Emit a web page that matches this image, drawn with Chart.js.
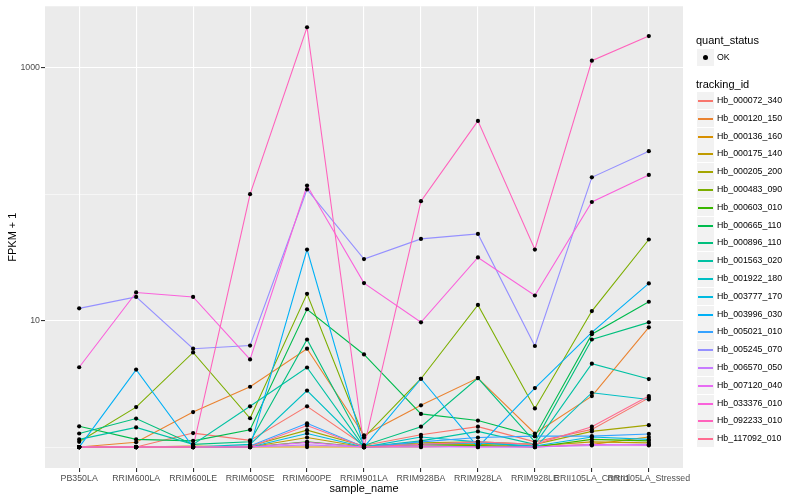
<!DOCTYPE html>
<html>
<head>
<meta charset="utf-8">
<script src="https://cdn.jsdelivr.net/npm/chart.js@4/dist/chart.umd.min.js"></script>
<style>
  body { margin: 0; background: #fff; font-family: "Liberation Sans", Arial, sans-serif; }
  #wrap { position: relative; width: 800px; height: 500px; }
  #legend { position: absolute; left: 0; top: 0; width: 800px; height: 500px; pointer-events: none; }
  .lg-title { position: absolute; left: 696px; font-size: 11px; color: #000; line-height: 13px; }
  .lg-key { position: absolute; left: 697px; width: 17px; height: 17px; background: #f2f2f2; }
  .lg-line { position: absolute; left: 1px; width: 15px; top: 8px; height: 2px; }
  .lg-dot { position: absolute; left: 6px; top: 6px; width: 5px; height: 5px; border-radius: 50%; background: #000; }
  .lg-label { position: absolute; left: 717px; font-size: 8.8px; color: #000; line-height: 11px; }
</style>
</head>
<body>
<div id="wrap">
  <canvas id="chart" width="800" height="500"></canvas>
  <div id="legend"></div>
</div>
<script>
// x categories
const sampleNames = ['PB350LA', 'RRIM600LA', 'RRIM600LE', 'RRIM600SE', 'RRIM600PE', 'RRIM901LA',
  'RRIM928BA', 'RRIM928LA', 'RRIM928LE', 'RRII105LA_Control', 'RRII105LA_Stressed'];

const trackingIds = ['Hb_000072_340', 'Hb_000120_150', 'Hb_000136_160', 'Hb_000175_140', 'Hb_000205_200',
  'Hb_000483_090', 'Hb_000603_010', 'Hb_000665_110', 'Hb_000896_110', 'Hb_001563_020', 'Hb_001922_180',
  'Hb_003777_170', 'Hb_003996_030', 'Hb_005021_010', 'Hb_005245_070', 'Hb_006570_050', 'Hb_007120_040',
  'Hb_033376_010', 'Hb_092233_010', 'Hb_117092_010'];

// ggplot default hue palette, 20 levels
const seriesColors = ['#F8766D', '#EA8331', '#D89000', '#C09B00', '#A3A500', '#7CAE00', '#39B600', '#00BB4E',
  '#00BF7D', '#00C1A3', '#00BFC4', '#00BAE0', '#00B0F6', '#35A2FF', '#9590FF', '#C77CFF', '#E76BF3',
  '#FA62DB', '#FF62BC', '#FF6C91'];

// FPKM + 1, one array per tracking_id
const hb000072_340 = [1.0, 1.0, 1.29, 1.13, 2.1, 1.03, 1.25, 1.45, 1.1, 1.38, 2.45];
const hb000120_150 = [1.0, 1.09, 1.89, 3.0, 6.0, 1.24, 2.14, 3.51, 1.28, 2.53, 8.85];
const hb000136_160 = [1.0, 1.0, 1.0, 1.0, 1.0, 1.0, 1.0, 1.02, 1.0, 1.05, 1.2];
const hb000175_140 = [1.0, 1.0, 1.02, 1.0, 1.19, 1.0, 1.05, 1.05, 1.02, 1.1, 1.08];
const hb000205_200 = [1.0, 1.0, 1.0, 1.02, 1.36, 1.02, 1.08, 1.1, 1.05, 1.33, 1.49];
const hb000483_090 = [1.1, 2.07, 5.6, 1.69, 16.3, 1.19, 3.47, 13.3, 2.02, 11.9, 43.8];
const hb000603_010 = [1.0, 1.0, 1.0, 1.0, 1.1, 1.0, 1.02, 1.03, 1.0, 1.15, 1.12];
const hb000665_110 = [1.46, 1.15, 1.12, 1.37, 12.3, 5.4, 1.83, 1.62, 1.22, 7.8, 14.1];
const hb000896_110 = [1.28, 1.68, 1.05, 1.1, 7.09, 1.03, 1.45, 3.51, 1.1, 7.09, 9.69];
const hb001563_020 = [1.15, 1.43, 1.05, 2.1, 4.26, 1.0, 1.12, 1.33, 1.05, 4.57, 3.45];
const hb001922_180 = [1.0, 1.0, 1.0, 1.05, 2.8, 1.0, 1.2, 1.1, 1.0, 2.69, 2.38];
const hb003777_170 = [1.0, 1.0, 1.0, 1.0, 1.28, 1.0, 1.05, 1.08, 1.02, 1.2, 1.15];
const hb003996_030 = [1.0, 4.1, 1.0, 1.0, 36.5, 1.0, 3.47, 1.0, 2.93, 8.08, 19.7];
const hb005021_010 = [1.0, 1.0, 1.0, 1.02, 1.54, 1.0, 1.1, 1.19, 1.22, 1.22, 1.27];
const hb005245_070 = [12.5, 15.4, 6.0, 6.35, 109, 30.7, 44.3, 48.5, 6.3, 136, 219];
const hb006570_050 = [1.0, 1.0, 1.0, 1.0, 1.04, 1.0, 1.0, 1.0, 1.0, 1.03, 1.05];
const hb007120_040 = [1.0, 1.0, 1.0, 1.0, 1.09, 1.0, 1.02, 1.0, 1.0, 1.05, 1.03];
const hb033376_010 = [4.28, 16.7, 15.4, 4.93, 117, 19.8, 9.7, 31.6, 15.8, 86.7, 142];
const hb092233_010 = [1.0, 1.0, 1.0, 100, 2090, 1.0, 88, 380, 36.5, 1137, 1780];
const hb117092_010 = [1.0, 1.0, 1.0, 1.0, 1.48, 1.0, 1.05, 1.1, 1.05, 1.45, 2.53];

const seriesValues = [hb000072_340, hb000120_150, hb000136_160, hb000175_140, hb000205_200, hb000483_090,
  hb000603_010, hb000665_110, hb000896_110, hb001563_020, hb001922_180, hb003777_170, hb003996_030,
  hb005021_010, hb005245_070, hb006570_050, hb007120_040, hb033376_010, hb092233_010, hb117092_010];

// y axis: grid at every decade, labels only on 10 and 1000
const yGridValues = [1, 10, 100, 1000];
const yLabelValues = [10, 1000];

const FONT = '"Liberation Sans", Arial, sans-serif';

// grey panel behind the plot
const panelBg = {
  id: 'panelBg',
  beforeDraw(chart) {
    const { ctx, chartArea: a } = chart;
    ctx.save();
    ctx.fillStyle = '#ebebeb';
    ctx.fillRect(a.left, a.top, a.right - a.left, a.bottom - a.top);
    ctx.restore();
  }
};

const datasets = seriesValues.map((vals, i) => ({
  label: trackingIds[i],
  data: vals.map((v, j) => ({ x: j, y: v })),
  borderColor: seriesColors[i],
  borderWidth: 1.1,
  pointRadius: 0,
  tension: 0,
  fill: false,
  order: 100 - i   // later groups on top, like ggplot
}));

// all points in one black layer above the lines
const allPoints = [];
seriesValues.forEach(vals => vals.forEach((v, j) => allPoints.push({ x: j, y: v })));
datasets.push({
  label: 'OK',
  data: allPoints,
  showLine: false,
  pointRadius: 2.1,
  pointBackgroundColor: '#000',
  pointBorderWidth: 0,
  order: 0
});

const isMajorY = (v) => yLabelValues.includes(v);

new Chart(document.getElementById('chart'), {
  type: 'line',
  data: { datasets },
  plugins: [panelBg],
  options: {
    responsive: false,
    animation: false,
    layout: { padding: { top: 5, right: 117, left: 0, bottom: 0 } },
    plugins: { legend: { display: false }, tooltip: { enabled: false } },
    scales: {
      x: {
        type: 'linear',
        min: -0.6,
        max: 10.6,
        afterBuildTicks: (s) => { s.ticks = sampleNames.map((n, i) => ({ value: i })); },
        afterFit: (s) => { s.height = 32; },
        border: { display: false },
        grid: { color: '#ffffff', lineWidth: 1.1, tickColor: '#333333', tickLength: 4 },
        ticks: {
          autoSkip: false, maxRotation: 0, minRotation: 0, padding: 1,
          color: '#4d4d4d', font: { family: FONT, size: 8.8 },
          callback: (v) => sampleNames[v]
        },
        title: { display: true, text: 'sample_name', color: '#000', font: { family: FONT, size: 11 }, padding: { top: 0, bottom: 4 } }
      },
      y: {
        type: 'logarithmic',
        min: 0.683,
        max: 3063,
        afterBuildTicks: (s) => { s.ticks = yGridValues.map(v => ({ value: v })); },
        afterFit: (s) => { s.width = 45; },
        border: { display: false },
        grid: {
          color: '#ffffff',
          lineWidth: (c) => isMajorY(c.tick && c.tick.value) ? 1.1 : 0.55,
          tickColor: (c) => isMajorY(c.tick && c.tick.value) ? '#333333' : 'rgba(0,0,0,0)',
          tickLength: 4
        },
        ticks: {
          padding: 1, color: '#4d4d4d', font: { family: FONT, size: 8.8 },
          callback: (v) => isMajorY(v) ? String(v) : ''
        },
        title: { display: true, text: 'FPKM + 1', color: '#000', font: { family: FONT, size: 11 }, padding: { top: 6, bottom: 0 } }
      }
    }
  }
});

// legend, drawn as html to the right of the panel
const legend = document.getElementById('legend');
function addEl(cls, css, text) {
  const el = document.createElement('div');
  el.className = cls;
  Object.assign(el.style, css);
  if (text) el.textContent = text;
  legend.appendChild(el);
  return el;
}

addEl('lg-title', { top: '34px' }, 'quant_status');
const okKey = addEl('lg-key', { top: '49px' });
okKey.appendChild(Object.assign(document.createElement('div'), { className: 'lg-dot' }));
addEl('lg-label', { top: '52px' }, 'OK');

addEl('lg-title', { top: '78px' }, 'tracking_id');
trackingIds.forEach((id, i) => {
  const top = Math.round(92 + i * 17.8);
  const key = addEl('lg-key', { top: top + 'px' });
  const line = document.createElement('div');
  line.className = 'lg-line';
  line.style.background = seriesColors[i];
  key.appendChild(line);
  addEl('lg-label', { top: (top + 3) + 'px' }, id);
});
</script>
</body>
</html>
